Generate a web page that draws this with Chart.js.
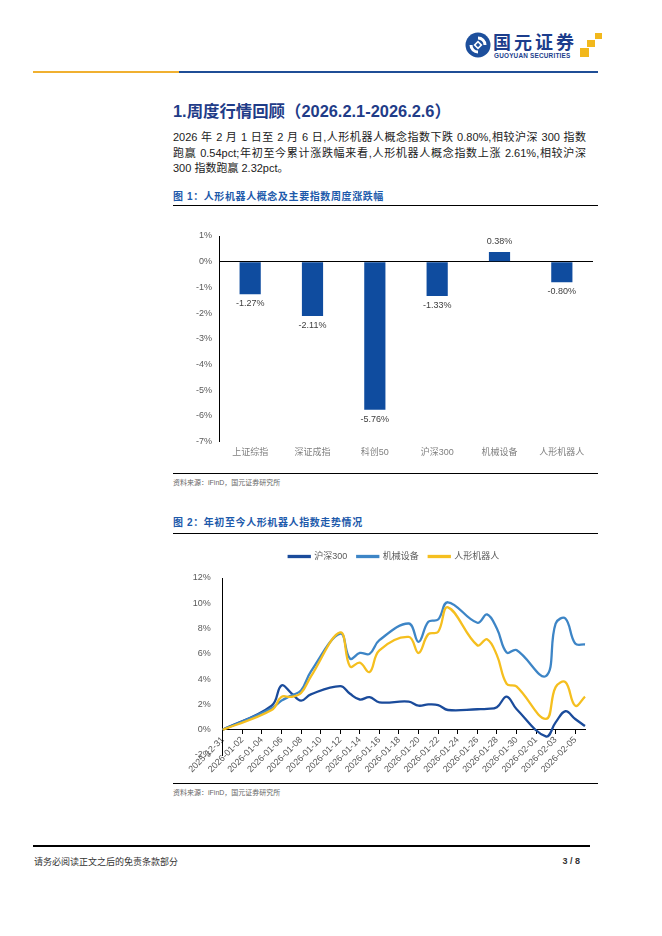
<!DOCTYPE html>
<html lang="zh-CN">
<head>
<meta charset="utf-8">
<title>人形机器人周报 3/8</title>
<script src="https://cdn.jsdelivr.net/npm/chart.js@4.4.1/dist/chart.umd.min.js"></script>
<style>
  html, body { margin: 0; padding: 0; background: #fff; }
  body {
    width: 662px; height: 936px; position: relative; overflow: hidden;
    font-family: "Liberation Sans", "Noto Sans CJK SC", sans-serif; color: #222;
  }
  .abs { position: absolute; }
  .rule { position: absolute; left: 173px; width: 425px; height: 1px; background: #000; }
  .para div { text-align: justify; text-align-last: justify; height: 15.5px; }
  .para div.last { text-align-last: left; }
  .caption { position: absolute; left: 173px; font-size: 10px; font-weight: bold; color: #1d5aab; letter-spacing: 0.6px; line-height: 12px; }
  .source { position: absolute; left: 173px; font-size: 7px; color: #666; line-height: 9px; }
</style>
</head>
<body>

<!-- 页眉 -->
<svg class="abs" style="left:464px;top:31px" width="28" height="28" viewBox="0 0 28 28">
  <circle cx="14" cy="14" r="12.5" fill="#1d4f9c"/>
  <path d="M14 5.5 A8.5 8.5 0 0 1 22.5 14 L19.5 14 A5.5 5.5 0 0 0 14 8.5 Z" fill="#fff"/>
  <path d="M14 22.5 A8.5 8.5 0 0 1 5.5 14 L8.5 14 A5.5 5.5 0 0 0 14 19.5 Z" fill="#fff"/>
  <path d="M14 9.5 L18.5 14 L14 18.5 L9.5 14 Z" fill="#fff"/>
  <path d="M14 11.8 L16.2 14 L14 16.2 L11.8 14 Z" fill="#1d4f9c"/>
</svg>
<div class="abs" style="left:493px;top:30px;font-size:18px;font-weight:bold;color:#1c3d8c;letter-spacing:3px;line-height:22px;font-family:'Noto Sans CJK SC',sans-serif">国元证券</div>
<div class="abs" style="left:494px;top:52px;font-size:6.4px;font-weight:bold;color:#1c3d8c;letter-spacing:0.2px;line-height:8px">GUOYUAN SECURITIES</div>
<div class="abs" style="left:595px;top:33px;width:7px;height:6px;background:#f2b81c"></div>
<div class="abs" style="left:587px;top:40px;width:8px;height:7px;background:#f2b81c"></div>
<div class="abs" style="left:580px;top:48px;width:9px;height:9px;background:#f2b81c"></div>
<div class="abs" style="left:33px;top:71px;width:146px;height:1.5px;background:#f0b030"></div>
<div class="abs" style="left:179px;top:71px;width:419px;height:1.5px;background:#1f4e96"></div>

<!-- 标题与正文 -->
<div class="abs" style="left:173px;top:101px;font-size:16.4px;font-weight:bold;color:#1f3c88;line-height:21px">1.周度行情回顾（2026.2.1-2026.2.6）</div>
<div class="abs para" style="left:173px;top:130px;width:413px;font-size:11px;line-height:15.5px;color:#222">
  <div>2026 年 2 月 1 日至 2 月 6 日,人形机器人概念指数下跌 0.80%,相较沪深 300 指数</div>
  <div>跑赢 0.54pct;年初至今累计涨跌幅来看,人形机器人概念指数上涨 2.61%,相较沪深</div>
  <div class="last">300 指数跑赢 2.32pct。</div>
</div>

<!-- 图1 -->
<div class="caption" style="top:191px">图 1：人形机器人概念及主要指数周度涨跌幅</div>
<div class="rule" style="top:205px"></div>
<canvas id="barChart" class="abs" style="left:173px;top:215px" width="425" height="250"></canvas>
<div class="rule" style="top:473px"></div>
<div class="source" style="top:478px">资料来源：iFinD，国元证券研究所</div>

<!-- 图2 -->
<div class="caption" style="top:517px">图 2：年初至今人形机器人指数走势情况</div>
<div class="rule" style="top:533px"></div>
<canvas id="lineChart" class="abs" style="left:173px;top:538px" width="425" height="244"></canvas>
<div class="rule" style="top:783px"></div>
<div class="source" style="top:788px">资料来源：iFinD，国元证券研究所</div>

<!-- 页脚 -->
<div class="abs" style="left:33px;top:845px;width:557px;height:2px;background:#000"></div>
<div class="abs" style="left:34px;top:856px;font-size:9px;color:#333;line-height:11px;font-family:'Noto Sans CJK SC',sans-serif">请务必阅读正文之后的免责条款部分</div>
<div class="abs" style="left:540px;top:856px;width:40px;text-align:right;font-size:9px;font-weight:bold;color:#333;line-height:11px">3 / 8</div>

<script>
// 图1：周度涨跌幅（%）
const barCategories = ["上证综指", "深证成指", "科创50", "沪深300", "机械设备", "人形机器人"];
const barValues = [-1.27, -2.11, -5.76, -1.33, 0.38, -0.80];

// 图2：年初至今累计涨跌幅（%），非交易日为 null
const lineDates = [
  "2025-12-31", "2026-01-01", "2026-01-02", "2026-01-03", "2026-01-04", "2026-01-05",
  "2026-01-06", "2026-01-07", "2026-01-08", "2026-01-09", "2026-01-10", "2026-01-11",
  "2026-01-12", "2026-01-13", "2026-01-14", "2026-01-15", "2026-01-16", "2026-01-17",
  "2026-01-18", "2026-01-19", "2026-01-20", "2026-01-21", "2026-01-22", "2026-01-23",
  "2026-01-24", "2026-01-25", "2026-01-26", "2026-01-27", "2026-01-28", "2026-01-29",
  "2026-01-30", "2026-01-31", "2026-02-01", "2026-02-02", "2026-02-03", "2026-02-04",
  "2026-02-05", "2026-02-06"
];
const hs300 = [
  0, null, null, null, null, 1.9,
  3.5, 2.9, 2.3, 2.8, null, null,
  3.45, 2.84, 2.39, 2.57, 2.17, null,
  null, 2.22, 1.9, 2.0, 1.95, 1.56,
  null, null, 1.62, 1.65, 1.78, 2.62,
  1.64, null, null, -0.53, 0.58, 1.46,
  0.85, 0.29
];
const jixieShebei = [
  0, null, null, null, null, 1.7,
  2.3, 2.7, 3.1, 4.6, null, null,
  7.6, 5.62, 6.07, 6.0, 7.08, null,
  null, 8.4, 6.95, 8.54, 8.72, 10.08,
  null, null, 8.46, 9.12, 8.0, 6.1,
  6.3, null, null, 4.24, 8.4, 8.8,
  6.82, 6.74
];
const renxingJqr = [
  0, null, null, null, null, 1.55,
  2.6, 2.6, 2.9, 4.2, null, null,
  7.7, 5.0, 5.3, 4.56, 6.28, null,
  null, 7.34, 6.07, 7.56, 7.74, 9.68,
  null, null, 6.68, 7.16, 5.9, 3.63,
  3.42, null, null, 0.85, 3.37, 3.76,
  1.9, 2.61
];

const FONT = '"Liberation Sans", "Noto Sans CJK SC", sans-serif';
const GREY = "#595959";

// 柱子数值标签
const barLabels = {
  id: "barLabels",
  afterDatasetsDraw(chart) {
    const ctx = chart.ctx;
    const meta = chart.getDatasetMeta(0);
    const vals = chart.data.datasets[0].data;
    ctx.save();
    ctx.font = "9px " + FONT;
    ctx.fillStyle = "#404040";
    ctx.textAlign = "center";
    ctx.textBaseline = "middle";
    meta.data.forEach((bar, i) => {
      const v = vals[i];
      const y = v < 0 ? bar.y + 9.5 : bar.y - 10;
      ctx.fillText(v.toFixed(2) + "%", bar.x, y);
    });
    ctx.restore();
  }
};

new Chart(document.getElementById("barChart"), {
  type: "bar",
  data: {
    labels: barCategories,
    datasets: [{
      data: barValues,
      backgroundColor: "#0f4c9f",
      barPercentage: 0.34,
      categoryPercentage: 1
    }]
  },
  options: {
    responsive: false,
    animation: false,
    layout: { padding: { top: 21, right: 5, bottom: 2.5, left: 0 } },
    plugins: { legend: { display: false }, tooltip: { enabled: false } },
    scales: {
      x: {
        grid: { display: false, drawTicks: false },
        border: { display: false },
        ticks: { font: { size: 9, family: FONT }, color: "#808080", padding: 5 }
      },
      y: {
        min: -7, max: 1,
        afterFit(scale) { scale.width = 46; },
        grid: {
          drawTicks: false,
          color: c => (c.tick && c.tick.value === 0 ? "#000" : "rgba(0,0,0,0)")
        },
        border: { display: true, color: "#000", width: 1 },
        ticks: {
          stepSize: 1,
          padding: 7,
          font: { size: 9, family: FONT },
          color: GREY,
          callback: v => v + "%"
        }
      }
    }
  },
  plugins: [barLabels]
});

// 图例下方留白，并整体右移到参考位置
const legendTweak = {
  id: "legendTweak",
  beforeInit(chart) {
    const fit = chart.legend.fit;
    chart.legend.fit = function () {
      fit.bind(chart.legend)();
      this.height += 7;
    };
  },
  afterLayout(chart) {
    chart.legend.left += 15;
    chart.legend.right += 15;
  }
};

const lineSet = (label, data, color, order) => ({
  label, data,
  borderColor: color,
  backgroundColor: color,
  borderWidth: 2.3,
  pointRadius: 0,
  tension: 0.4,
  spanGaps: true,
  order
});

new Chart(document.getElementById("lineChart"), {
  type: "line",
  data: {
    labels: lineDates,
    datasets: [
      lineSet("沪深300", hs300, "#1a4b9b", 3),
      lineSet("机械设备", jixieShebei, "#3d85c6", 2),
      lineSet("人形机器人", renxingJqr, "#f5bf1f", 1)
    ]
  },
  options: {
    responsive: false,
    animation: false,
    layout: { padding: { top: 4, right: 13, bottom: 27, left: 0 } },
    plugins: {
      tooltip: { enabled: false },
      legend: {
        position: "top",
        labels: {
          boxWidth: 21,
          boxHeight: 1,
          padding: 10,
          color: GREY,
          font: { size: 9, family: FONT },
          sort: (a, b) => a.datasetIndex - b.datasetIndex
        }
      }
    },
    scales: {
      x: {
        position: { y: 0 },
        grid: {
          drawOnChartArea: false,
          tickLength: 4,
          color: c => (c.index % 2 === 0 ? "#000" : "rgba(0,0,0,0)")
        },
        border: { display: true, color: "#000", width: 1 },
        ticks: {
          autoSkip: false,
          maxRotation: 45,
          minRotation: 45,
          padding: 1,
          font: { size: 9, family: FONT },
          color: GREY,
          callback: function (val, i) { return i % 2 === 0 ? this.getLabelForValue(val) : ""; }
        }
      },
      y: {
        min: -2, max: 12,
        afterFit(scale) { scale.width = 49.7; },
        grid: { display: false, drawTicks: false },
        border: { display: true, color: "#000", width: 1 },
        ticks: {
          stepSize: 2,
          padding: 12,
          font: { size: 9, family: FONT },
          color: GREY,
          callback: v => v + "%"
        }
      }
    }
  },
  plugins: [legendTweak]
});
</script>
</body>
</html>
